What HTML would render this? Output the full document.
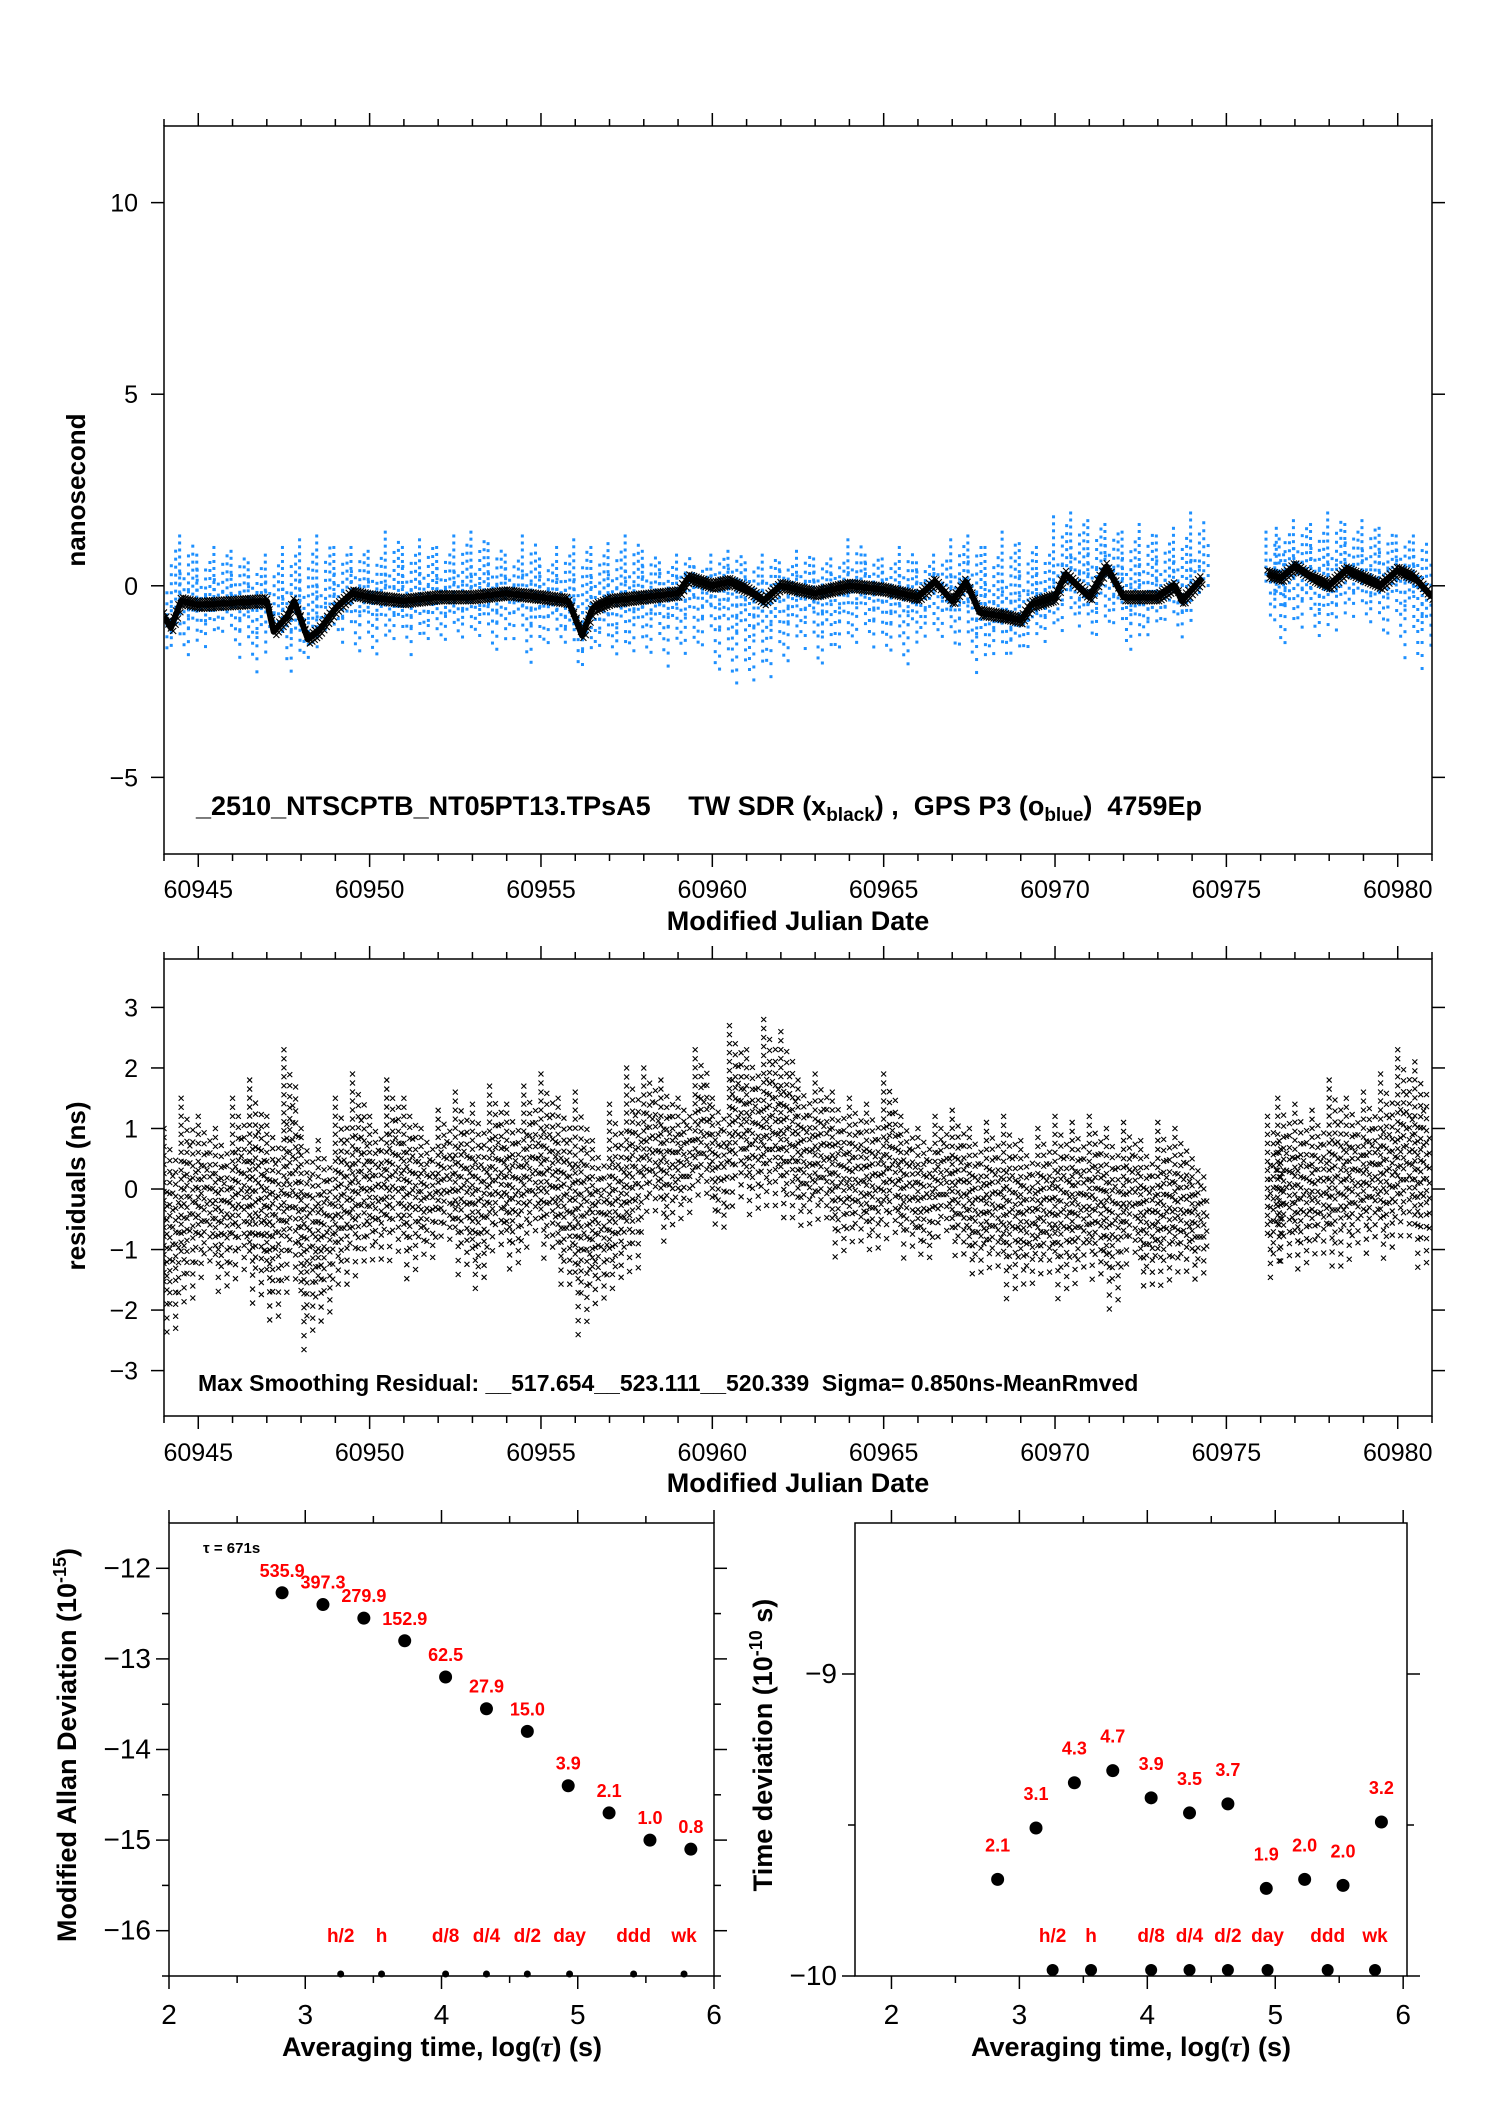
<!DOCTYPE html>
<html><head><meta charset="utf-8"><style>
html,body{margin:0;padding:0;background:#fff;}
svg{display:block;}
text{font-family:"Liberation Sans",sans-serif;}
</style></head><body>
<svg id="root" xmlns="http://www.w3.org/2000/svg" width="1488" height="2105" viewBox="0 0 1488 2105">
<rect width="1488" height="2105" fill="#fff"/>
<g id="g1"></g>
<g id="g2"></g>
<g id="g3"></g>
<g id="g4"></g>
</svg>
<script>
// ---- time series data ----
const blackT=[60944,60944.2,60944.5,60945,60946,60947,60947.2,60947.6,60947.8,60948.2,60948.5,60949,60949.5,60950,60951,60952,60953,60954,60955,60955.8,60956.2,60956.5,60957,60958,60959,60959.3,60960,60960.5,60961,60961.5,60962,60963,60964,60965,60966,60966.5,60967,60967.4,60967.8,60968.5,60969,60969.3,60970,60970.3,60971,60971.5,60972,60973,60973.5,60973.7,60974.3];
const blackV=[-0.8,-1.1,-0.4,-0.5,-0.45,-0.4,-1.2,-0.8,-0.4,-1.4,-1.2,-0.6,-0.2,-0.3,-0.4,-0.3,-0.3,-0.2,-0.3,-0.4,-1.3,-0.6,-0.4,-0.3,-0.2,0.2,0.0,0.1,-0.1,-0.4,0.0,-0.2,0.0,-0.1,-0.3,0.1,-0.4,0.1,-0.7,-0.8,-0.9,-0.5,-0.3,0.3,-0.3,0.5,-0.3,-0.3,0.0,-0.4,0.2];
const black2T=[60976.2,60976.6,60977,60977.5,60978,60978.5,60979,60979.5,60980,60980.5,60981];
const black2V=[0.3,0.2,0.5,0.2,0.0,0.4,0.2,0.0,0.4,0.2,-0.3];
const blueT=[60944,60944.5,60945,60945.5,60946,60946.5,60947,60947.5,60948,60948.5,60949,60949.5,60950,60950.5,60951,60951.5,60952,60952.5,60953,60953.5,60954,60954.5,60955,60955.5,60956,60956.5,60957,60957.5,60958,60958.5,60959,60959.5,60960,60960.5,60961,60961.5,60962,60962.5,60963,60963.5,60964,60964.5,60965,60965.5,60966,60966.5,60967,60967.5,60968,60968.5,60969,60969.5,60970,60970.5,60971,60971.5,60972,60972.5,60973,60973.5,60974,60976.2,60976.5,60977,60977.5,60978,60978.5,60979,60979.5,60980,60980.5];
const blueHi=[1.2,1.3,0.8,1.0,0.9,0.6,0.8,1.0,1.2,1.3,1.0,1.0,0.9,1.4,1.0,1.2,1.0,1.3,1.4,1.1,0.8,1.3,0.7,1.0,1.2,1.0,1.1,1.3,0.9,0.6,0.8,0.5,0.8,0.9,0.6,0.8,0.6,0.9,0.7,0.7,1.2,0.8,0.7,1.0,0.6,0.8,1.2,1.3,1.0,1.4,1.1,1.0,1.8,1.9,1.7,1.6,1.4,1.6,1.3,1.5,1.9,1.4,1.5,1.7,1.6,1.9,1.6,1.7,1.5,1.3,1.3];
const blueLo=[-1.8,-2.0,-1.6,-1.5,-1.9,-2.3,-1.3,-2.4,-2.0,-1.2,-1.5,-1.8,-2.0,-1.5,-1.8,-1.7,-1.6,-1.5,-1.6,-1.9,-1.4,-2.0,-1.7,-1.8,-2.2,-1.8,-2.1,-1.8,-1.9,-2.2,-2.0,-1.8,-2.5,-2.8,-2.7,-2.4,-2.2,-1.7,-2.3,-1.9,-1.6,-1.7,-2.0,-2.2,-1.5,-1.6,-1.8,-2.3,-1.8,-2.0,-1.7,-1.5,-1.2,-1.2,-1.5,-1.2,-1.8,-1.4,-1.0,-1.5,-0.2,-1.0,-1.7,-1.2,-1.6,-1.2,-0.8,-1.2,-1.4,-1.9,-2.3];
// ---- residuals data ----
const resT=[60944,60944.5,60945,60945.5,60946,60946.5,60947,60947.5,60948,60948.5,60949,60949.5,60950,60950.5,60951,60951.5,60952,60952.5,60953,60953.5,60954,60954.5,60955,60955.5,60956,60956.5,60957,60957.5,60958,60958.5,60959,60959.5,60960,60960.5,60961,60961.5,60962,60962.5,60963,60963.5,60964,60964.5,60965,60965.5,60966,60966.5,60967,60967.5,60968,60968.5,60969,60969.5,60970,60970.5,60971,60971.5,60972,60972.5,60973,60973.5,60974,60976.2,60976.5,60977,60977.5,60978,60978.5,60979,60979.5,60980,60980.5];
const resHi=[1.0,1.5,1.2,1.0,1.5,1.8,1.2,2.3,1.0,0.8,1.5,1.9,1.2,1.8,1.5,1.0,1.3,1.6,1.4,1.7,1.4,1.7,1.9,1.5,1.6,0.8,1.4,2.0,2.0,1.8,1.5,2.3,1.5,2.7,2.3,2.8,2.6,1.8,1.9,1.6,1.5,1.4,1.9,1.2,1.0,1.2,1.3,1.0,1.1,1.2,0.8,1.0,1.2,1.1,1.2,1.0,1.1,0.8,1.1,1.0,0.5,1.2,1.5,1.4,1.3,1.8,1.5,1.6,1.9,2.3,2.1];
const resLo=[-2.5,-2.0,-1.5,-1.8,-1.5,-2.0,-2.3,-1.8,-2.7,-2.2,-1.8,-1.5,-1.3,-1.2,-1.5,-1.3,-1.0,-1.5,-1.8,-1.2,-1.5,-1.0,-1.3,-1.8,-2.5,-2.0,-1.8,-1.5,-0.5,-0.9,-0.5,-0.3,-0.8,-0.3,-0.6,-0.5,-0.7,-0.8,-0.7,-1.3,-1.0,-1.2,-1.0,-1.2,-1.3,-0.8,-1.3,-1.6,-1.5,-1.9,-1.7,-1.6,-1.9,-1.6,-1.6,-2.0,-1.3,-1.8,-1.7,-1.5,-1.5,-1.5,-1.3,-1.5,-1.2,-1.5,-1.2,-1.1,-1.3,-1.0,-1.5];
// ---- stability data ----
const logTau=[2.83,3.13,3.43,3.73,4.03,4.33,4.63,4.93,5.23,5.53,5.83];
const madev=[-12.27,-12.4,-12.55,-12.8,-13.2,-13.55,-13.8,-14.4,-14.7,-15.0,-15.1];
const madevLabels=["535.9","397.3","279.9","152.9","62.5","27.9","15.0","3.9","2.1","1.0","0.8"];
const tdev=[-9.68,-9.51,-9.36,-9.32,-9.41,-9.46,-9.43,-9.71,-9.68,-9.70,-9.49];
const tdevLabels=["2.1","3.1","4.3","4.7","3.9","3.5","3.7","1.9","2.0","2.0","3.2"];
const markNames=["h/2","h","d/8","d/4","d/2","day","ddd","wk"];
const markPos=[3.26,3.56,4.03,4.33,4.63,4.94,5.41,5.78];
const mjdTicks=[60945,60950,60955,60960,60965,60970,60975,60980];

const NS="http://www.w3.org/2000/svg";
function el(parent,tag,a,txt){const e=document.createElementNS(NS,tag);for(const k in a)e.setAttribute(k,a[k]);if(txt!==undefined)e.textContent=txt;parent.appendChild(e);return e;}
function lin(d0,d1,r0,r1){return v=>r0+(v-d0)*(r1-r0)/(d1-d0);}

function frame(g,L,R,T,B,name){
  const r=el(g,'rect',{x:L,y:T,width:R-L,height:B-T,fill:'none',stroke:'#000','stroke-width':1.5});
  
  
}
function xTicks(g,sx,T,B,majors,minors,labels,labY,fs,name){
  minors.forEach(v=>{const x=sx(v);el(g,'line',{x1:x,x2:x,y1:T,y2:T-7,stroke:'#000','stroke-width':1.5});el(g,'line',{x1:x,x2:x,y1:B,y2:B+7,stroke:'#000','stroke-width':1.5});});
  majors.forEach((v,i)=>{const x=sx(v);el(g,'line',{x1:x,x2:x,y1:T,y2:T-13,stroke:'#000','stroke-width':1.5});el(g,'line',{x1:x,x2:x,y1:B,y2:B+13,stroke:'#000','stroke-width':1.5});
    const t=el(g,'text',{x:x,y:labY,'font-size':fs,'text-anchor':'middle'},labels[i]);
    
    });
}
function yTicks(g,sy,L,R,majors,minors,labels,labX,fs,name){
  minors.forEach(v=>{const y=sy(v);el(g,'line',{x1:L,x2:L-7,y1:y,y2:y,stroke:'#000','stroke-width':1.5});el(g,'line',{x1:R,x2:R+7,y1:y,y2:y,stroke:'#000','stroke-width':1.5});});
  majors.forEach((v,i)=>{const y=sy(v);el(g,'line',{x1:L,x2:L-13,y1:y,y2:y,stroke:'#000','stroke-width':1.5});el(g,'line',{x1:R,x2:R+13,y1:y,y2:y,stroke:'#000','stroke-width':1.5});
    const t=el(g,'text',{x:labX,y:y+9,'font-size':fs,'text-anchor':'end'},labels[i]);
    
    });
}
function mjdMinor(){const a=[];for(let d=60944;d<=60981;d++)if(d%5!==0)a.push(d);return a;}
function interp(T,V,t){if(t<=T[0])return V[0];for(let i=1;i<T.length;i++)if(t<=T[i]){const f=(t-T[i-1])/(T[i]-T[i-1]);return V[i-1]+f*(V[i]-V[i-1]);}return V[V.length-1];}
function xmark(g,x,y,s){el(g,'path',{d:`M${x-s},${y-s}L${x+s},${y+s}M${x-s},${y+s}L${x+s},${y-s}`,stroke:'#000','stroke-width':1.1,fill:'none'});}

// ===== Panel 1 =====
(function(){
const g=document.getElementById('g1');
const L=164,R=1432,T=126,B=854;
const sx=lin(60944,60981,L,R), sy=lin(12,-7,T,B);
const cl=el(g,'clipPath',{id:'c1'});el(cl,'rect',{x:L,y:T,width:R-L,height:B-T});
const blue=el(g,'g',{'clip-path':'url(#c1)',fill:'#1e90ff'});


const fr=[1,0.35,0.7,0.2,0.85,0.5];
const gap=[7,11,9,13,8,10];
blueT.forEach((t,i)=>{
  for(let k=0;k<6;k++){
    const tt=t+k*0.085;
    const b0=t>60975?interp(black2T,black2V,tt):interp(blackT,blackV,Math.min(tt,60974.3));
    const up=b0+(blueHi[i]-b0)*fr[k], dn=b0+(blueLo[i]-b0)*fr[(k+3)%6];
    const x=sx(tt)+((k%3)-1)*1.5;
    for(let y=sy(up);y<=sy(dn);y+=gap[k]) el(blue,'rect',{x:x-1.5,y:y-1.5,width:3,height:3});
  }
});
const blk=el(g,'g',{'clip-path':'url(#c1)'});


function band(TT,VV){
  el(blk,'polyline',{points:TT.map((t,i)=>sx(t)+','+sy(VV[i])).join(' '),fill:'none',stroke:'#000','stroke-width':6,'stroke-linejoin':'round'});
  for(let t=TT[0];t<=TT[TT.length-1];t+=0.07){const x=sx(t),y=sy(interp(TT,VV,t));xmark(blk,x,y-4,3);xmark(blk,x+2,y+4,3);}
}
band(blackT,blackV);band(black2T,black2V);
frame(g,L,R,T,B,'top-plot');
xTicks(g,sx,T,B,mjdTicks,mjdMinor(),mjdTicks.map(String),898,25,'mjd');
yTicks(g,sy,L,R,[10,5,0,-5],[],["10","5","0","\u22125"],138,25,'ns');
let t=el(g,'text',{x:85,y:490,'font-size':26,'font-weight':'bold','text-anchor':'middle',transform:'rotate(-90 85 490)'},'nanosecond');

t=el(g,'text',{x:798,y:930,'font-size':27,'font-weight':'bold','text-anchor':'middle'},'Modified Julian Date');

t=el(g,'text',{x:196,y:815,'font-size':27,'font-weight':'bold'});

t.innerHTML='_2510_NTSCPTB_NT05PT13.TPsA5\u00a0\u00a0\u00a0\u00a0\u00a0TW SDR (x<tspan font-size="19" dy="6">black</tspan><tspan dy="-6">) ,\u00a0\u00a0GPS P3 (o</tspan><tspan font-size="19" dy="6">blue</tspan><tspan dy="-6">)\u00a0\u00a04759Ep</tspan>';
})();

// ===== Panel 2 =====
(function(){
const g=document.getElementById('g2');
const L=164,R=1432,T=959,B=1416;
const sx=lin(60944,60981,L,R), sy=lin(3.8,-3.75,T,B);
const cl=el(g,'clipPath',{id:'c2'});el(cl,'rect',{x:L,y:T,width:R-L,height:B-T});
const pts=el(g,'g',{'clip-path':'url(#c2)'});


const fr=[[1,0.5],[0.4,1],[0.8,0.7],[0.55,0.35],[0.7,0.9],[0.3,0.6]];
const gap=[9,14,11,17,12,15];
resT.forEach((t,i)=>{
  const mid=(resHi[i]+resLo[i])/2;
  for(let k=0;k<6;k++){
    const x=sx(t+k*0.085);
    const up=mid+(resHi[i]-mid)*fr[k][0], dn=mid+(resLo[i]-mid)*fr[k][1];
    for(let y=sy(up);y<=sy(dn);y+=gap[k]) xmark(pts,x,y,2.5);
  }
});
frame(g,L,R,T,B,'residual-plot');
xTicks(g,sx,T,B,mjdTicks,mjdMinor(),mjdTicks.map(String),1461,25,'mjd');
yTicks(g,sy,L,R,[3,2,1,0,-1,-2,-3],[],["3","2","1","0","\u22121","\u22122","\u22123"],138,25,'res');
let t=el(g,'text',{x:85,y:1186,'font-size':26,'font-weight':'bold','text-anchor':'middle',transform:'rotate(-90 85 1186)'},'residuals (ns)');

t=el(g,'text',{x:798,y:1492,'font-size':27,'font-weight':'bold','text-anchor':'middle'},'Modified Julian Date');

t=el(g,'text',{x:198,y:1391,'font-size':23,'font-weight':'bold'},'Max Smoothing Residual: __517.654__523.111__520.339\u00a0\u00a0Sigma= 0.850ns-MeanRmved');

})();

// ===== Stability panels =====
function stab(gid,L,R,T,B,xmin,xmax,ymin,ymax,vals,labs,yMaj,yMin,yLab,titleX,baseY,labDy){
const g=document.getElementById(gid);
const sx=lin(xmin,xmax,L,R), sy=lin(ymax,ymin,T,B);
frame(g,L,R,T,B,gid);
xTicks(g,sx,T,B,[2,3,4,5,6],[2.5,3.5,4.5,5.5],["2","3","4","5","6"],2024,28,'log-tau');
yTicks(g,sy,L,R,yMaj,yMin,yLab,L-18,28,'dev');
logTau.forEach((v,i)=>{
  const c=el(g,'circle',{cx:sx(v),cy:sy(vals[i]),r:6.5,fill:'#000'});
  
  
  const t=el(g,'text',{x:sx(v),y:sy(vals[i])-labDy,'font-size':18,'font-weight':'bold',fill:'#ff0000','text-anchor':'middle'},labs[i]);
  
  
});
markPos.forEach((v,i)=>{
  const c=el(g,'circle',{cx:sx(v),cy:baseY,r:(gid==='g4'?6:3.5),fill:'#000'});
  
  
  const t=el(g,'text',{x:sx(v),y:B-34,'font-size':19,'font-weight':'bold',fill:'#ff0000','text-anchor':'middle'},markNames[i]);
  
  
});
const t=el(g,'text',{x:titleX,y:2056,'font-size':27,'font-weight':'bold','text-anchor':'middle'});

t.innerHTML='Averaging time, log(<tspan font-family="Liberation Serif" font-style="italic">τ</tspan>) (s)';
}
stab('g3',169,714,1523,1976,2,6,-16.5,-11.5,madev,madevLabels,[-12,-13,-14,-15,-16],[-12.5,-13.5,-14.5,-15.5,-16.5],["\u221212","\u221213","\u221214","\u221215","\u221216"],442,1974,16);
stab('g4',855,1407,1523,1976,1.715,6.03,-10,-8.5,tdev,tdevLabels,[-9,-10],[-9.5],["\u22129","\u221210"],1131,1970,28);
(function(){
const g3=document.getElementById('g3');
let t=el(g3,'text',{x:76,y:1745,'font-size':27,'font-weight':'bold','text-anchor':'middle',transform:'rotate(-90 76 1745)'});

t.innerHTML='Modified Allan Deviation (10<tspan font-size="18" dy="-10">-15</tspan><tspan dy="10">)</tspan>';
t=el(g3,'text',{x:203,y:1553,'font-size':15,'font-weight':'bold'},'τ = 671s');

const g4=document.getElementById('g4');
t=el(g4,'text',{x:772,y:1745,'font-size':27,'font-weight':'bold','text-anchor':'middle',transform:'rotate(-90 772 1745)'});

t.innerHTML='Time deviation (10<tspan font-size="18" dy="-10">-10</tspan><tspan dy="10"> s)</tspan>';
})();
</script>
</body></html>
